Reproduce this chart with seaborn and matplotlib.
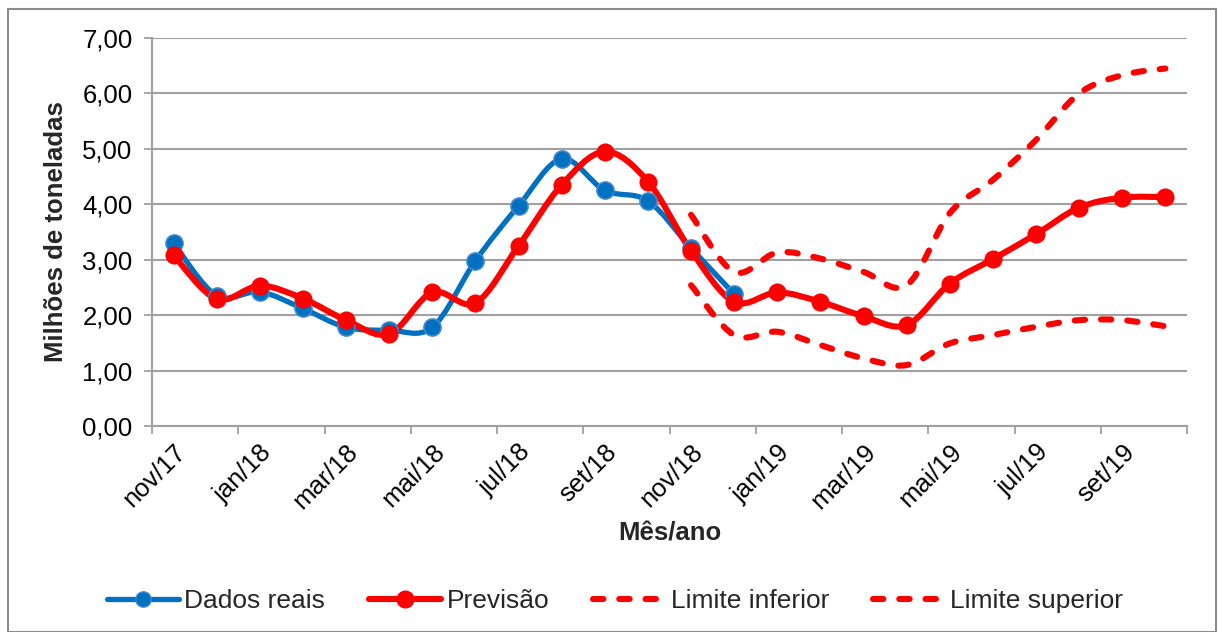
import numpy as np
import pandas as pd
import matplotlib
matplotlib.use('Agg')
import matplotlib.pyplot as plt
import seaborn as sns
from matplotlib.path import Path
from matplotlib.patches import PathPatch, Rectangle
from matplotlib.lines import Line2D
from matplotlib.ticker import FixedLocator, FuncFormatter

# data
meses = ['nov/17', 'dez/17', 'jan/18', 'fev/18', 'mar/18', 'abr/18', 'mai/18', 'jun/18',
         'jul/18', 'ago/18', 'set/18', 'out/18', 'nov/18', 'dez/18', 'jan/19', 'fev/19',
         'mar/19', 'abr/19', 'mai/19', 'jun/19', 'jul/19', 'ago/19', 'set/19', 'out/19']
dados_reais = [3.30, 2.35, 2.42, 2.12, 1.78, 1.73, 1.78, 2.98, 3.97, 4.82, 4.25, 4.06, 3.21, 2.38]
previsao = [3.08, 2.29, 2.53, 2.30, 1.91, 1.66, 2.41, 2.22, 3.25, 4.35, 4.95, 4.41,
            3.16, 2.24, 2.41, 2.24, 1.98, 1.82, 2.57, 3.01, 3.46, 3.94, 4.12, 4.13]
inicio_limites = 12  # limits start at nov/18
limite_inferior = [2.54, 1.64, 1.70, 1.46, 1.22, 1.10, 1.49, 1.64, 1.79, 1.91, 1.91, 1.80]
limite_superior = [3.81, 2.78, 3.13, 3.02, 2.78, 2.54, 3.84, 4.44, 5.16, 6.00, 6.33, 6.45]

azul = '#0070C0'
vermelho = '#FF0000'

sns.set_style('white')
plt.rcParams['font.family'] = ['Liberation Sans', 'DejaVu Sans']


def smooth_path(x, y):
    # Excel-style smoothed line (Catmull-Rom as cubic Bezier)
    pts = np.column_stack([x, y]).astype(float)
    n = len(pts)
    verts = [pts[0]]
    codes = [Path.MOVETO]
    for i in range(n - 1):
        p0 = pts[i - 1] if i > 0 else pts[i]
        p1 = pts[i]
        p2 = pts[i + 1]
        p3 = pts[i + 2] if i + 2 < n else pts[i + 1]
        verts += [p1 + (p2 - p0) / 6, p2 - (p3 - p1) / 6, p2]
        codes += [Path.CURVE4] * 3
    return Path(verts, codes)


fig = plt.figure(figsize=(12.18, 6.32), dpi=100)
ax = fig.add_axes([152 / 1218, 1 - 426 / 632, (1187 - 152) / 1218, (426 - 38) / 632])

x_all = np.arange(len(meses))
x_real = x_all[:len(dados_reais)]
x_lim = x_all[inicio_limites:inicio_limites + len(limite_inferior)]

tracejado = (0, (1.7, 2.6))

# smooth lines
for xs, ys, cor, lw, ls, z in [
        (x_real, dados_reais, azul, 3.8, '-', 3),
        (x_all, previsao, vermelho, 4.4, '-', 4),
        (x_lim, limite_inferior, vermelho, 4.4, tracejado, 4),
        (x_lim, limite_superior, vermelho, 4.4, tracejado, 4)]:
    patch = PathPatch(smooth_path(xs, ys), facecolor='none', edgecolor=cor,
                      lw=lw, linestyle=ls, zorder=z)
    patch.set_capstyle('round')
    patch.set_joinstyle('round')
    ax.add_patch(patch)

# markers
df_real = pd.DataFrame({'x': x_real, 'y': dados_reais})
df_prev = pd.DataFrame({'x': x_all, 'y': previsao})
sns.scatterplot(data=df_real, x='x', y='y', ax=ax, color=azul, s=150,
                edgecolor='#3F86CC', linewidth=1.2, zorder=5, legend=False)
sns.scatterplot(data=df_prev, x='x', y='y', ax=ax, color=vermelho, s=170,
                edgecolor=vermelho, linewidth=0, zorder=6, legend=False)

ax.set_xlim(-0.5, len(meses) - 0.5)
ax.set_ylim(0, 7)

# y axis
ax.set_yticks(np.arange(0, 8, 1))
ax.yaxis.set_major_formatter(FuncFormatter(lambda v, p: f'{v:.2f}'.replace('.', ',')))
ax.yaxis.grid(True, color='#A0A0A0', lw=1.5)
ax.tick_params(axis='y', which='major', left=True, length=6, width=1.3, color='#A0A0A0',
               labelsize=18.5, pad=8, labelcolor='black')

# x axis: tick marks at every second boundary, labels at every second category
ax.xaxis.set_major_locator(FixedLocator(np.arange(-0.5, len(meses), 2)))
ax.xaxis.set_minor_locator(FixedLocator(x_all[::2]))
ax.set_xticklabels([], minor=False)
ax.set_xticklabels(meses[::2], minor=True, rotation=45, ha='right', rotation_mode='anchor')
ax.tick_params(axis='x', which='major', bottom=True, length=6, width=1.3, color='#A0A0A0')
ax.tick_params(axis='x', which='minor', bottom=False, length=0, labelsize=18.5, pad=10,
               labelcolor='black')

for s in ['top', 'right']:
    ax.spines[s].set_visible(False)
for s in ['left', 'bottom']:
    ax.spines[s].set_color('#A0A0A0')
    ax.spines[s].set_linewidth(1.5)

ax.set_xlabel('Mês/ano', fontsize=18.5, fontweight='bold', labelpad=6)
ax.set_ylabel('Milhões de toneladas', fontsize=18.5, fontweight='bold', labelpad=10)

handles = [
    Line2D([], [], color=azul, lw=3.8, marker='o', markersize=11,
           markerfacecolor=azul, markeredgecolor='#3F86CC', solid_capstyle='round'),
    Line2D([], [], color=vermelho, lw=4.4, marker='o', markersize=12,
           solid_capstyle='round'),
    Line2D([], [], color=vermelho, lw=4.4, linestyle=tracejado, dash_capstyle='round'),
    Line2D([], [], color=vermelho, lw=4.4, linestyle=tracejado, dash_capstyle='round'),
]
labels = ['Dados reais', 'Previsão', 'Limite inferior', 'Limite superior']
fig.legend(handles, labels, loc='center', bbox_to_anchor=(615 / 1218, 1 - 601 / 632),
           ncol=4, frameon=False, fontsize=19, handlelength=2.75, handletextpad=0.2,
           columnspacing=1.65)

# chart border
fig.patches.append(Rectangle((8 / 1218, 0.5 / 632), (1216 - 8) / 1218, (623 - 0.5) / 632,
                             transform=fig.transFigure, fill=False, edgecolor='#8C8C8C',
                             lw=1.5, zorder=0))

fig.savefig('out.png', dpi=100, facecolor='white')
